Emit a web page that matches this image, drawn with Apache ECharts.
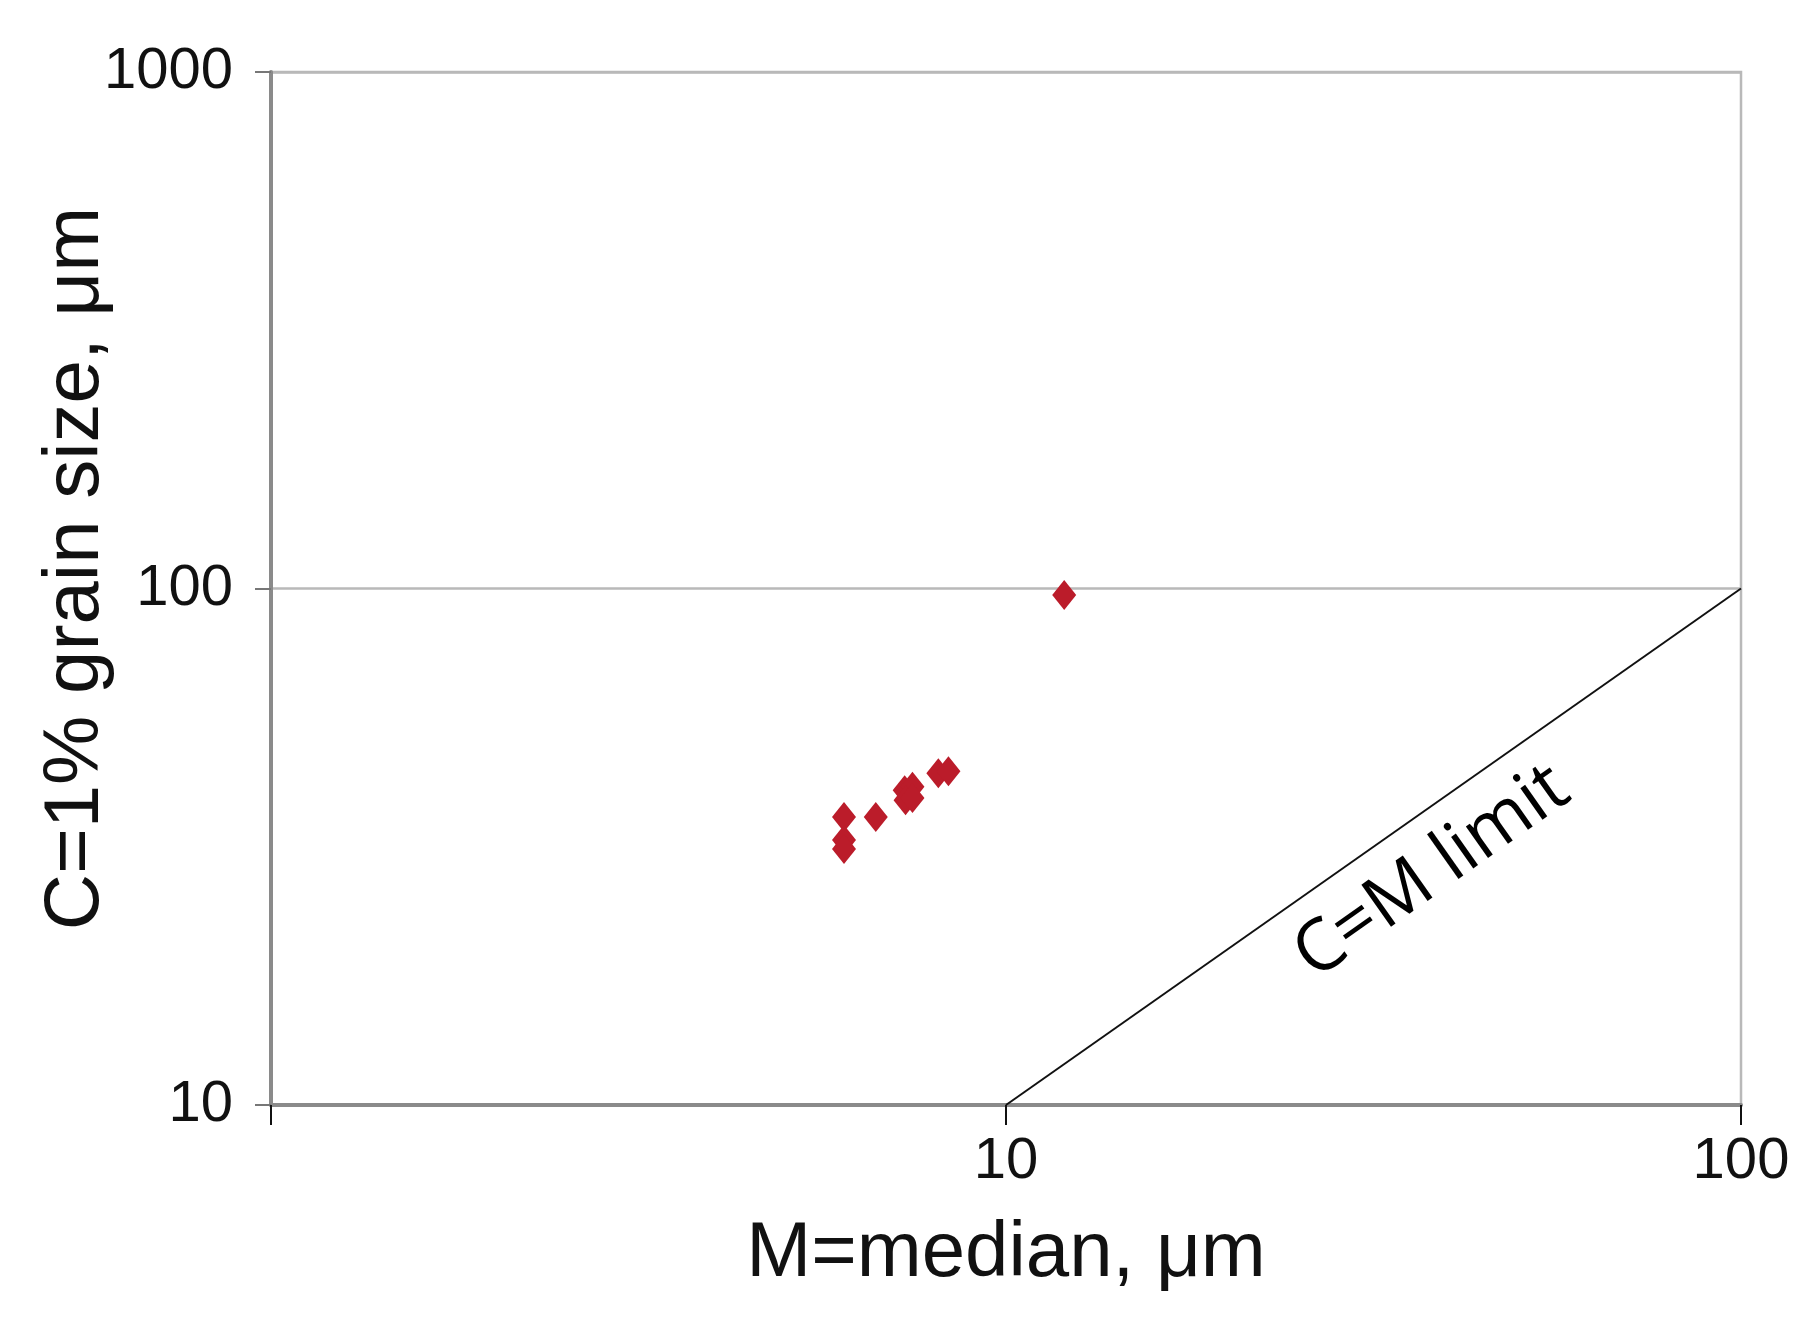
<!DOCTYPE html>
<html>
<head>
<meta charset="utf-8">
<title>C-M diagram</title>
<script src="https://cdn.jsdelivr.net/npm/echarts@6/dist/echarts.min.js"></script>
<style>
  html, body { margin: 0; padding: 0; background: #fff; }
  #chart { width: 1814px; height: 1323px; }
</style>
</head>
<body>
<div id="chart"></div>
<script>
// samples: M = median (µm), C = 1% grain size (µm)
const medianM = [12.0, 6.02, 6.02, 6.02, 6.65, 7.28, 7.46, 7.30, 7.46, 8.09, 8.35];
const coarseC = [97.1, 36.1, 32.6, 31.3, 36.1, 40.7, 41.3, 38.9, 39.3, 43.9, 44.3];

// C=M limit line end points
const limitLine = [[10, 10], [100, 100]];
const limitLabel = 'C=M limit';
const limitLabelAt = [38, 28.2];

const xTicks = [1, 10, 100];
const yTicks = [10, 100, 1000];

const chart = echarts.init(document.getElementById('chart'));

const points = medianM.map((m, i) => [m, coarseC[i]]);

chart.setOption({
  backgroundColor: '#fff',
  animation: false,
  grid: {
    left: 271,
    right: 73,
    top: 72,
    bottom: 218,
    outerBoundsMode: 'none',
    containLabel: false,
    show: true,
    borderColor: '#b9b9b9',
    borderWidth: 2.5
  },
  xAxis: {
    type: 'log',
    min: xTicks[0],
    max: xTicks[xTicks.length - 1],
    logBase: 10,
    name: 'M=median, μm',
    nameLocation: 'middle',
    nameGap: 110,
    nameMoveOverlap: false,
    nameTextStyle: {
      fontFamily: 'Liberation Sans',
      fontSize: 78,
      color: '#111'
    },
    axisLine: {
      show: true,
      lineStyle: { color: '#8a8a8a', width: 4 }
    },
    axisTick: {
      show: true,
      length: 20,
      lineStyle: { color: '#111', width: 2 }
    },
    axisLabel: {
      margin: 28,
      fontFamily: 'Liberation Sans',
      fontSize: 58,
      color: '#111',
      formatter: (v) => (v === xTicks[0] ? '' : String(v))
    },
    splitLine: { show: false }
  },
  yAxis: {
    type: 'log',
    min: yTicks[0],
    max: yTicks[yTicks.length - 1],
    logBase: 10,
    name: 'C=1% grain size, μm',
    nameLocation: 'middle',
    nameGap: 156,
    nameMoveOverlap: false,
    nameTextStyle: {
      fontFamily: 'Liberation Sans',
      fontSize: 78,
      color: '#111',
      padding: [0, 0, 0, 40]
    },
    axisLine: {
      show: true,
      lineStyle: { color: '#8a8a8a', width: 4 }
    },
    axisTick: {
      show: true,
      length: 16,
      lineStyle: { color: '#777', width: 2 }
    },
    axisLabel: {
      margin: 38,
      fontFamily: 'Liberation Sans',
      fontSize: 58,
      color: '#111',
      formatter: (v) => String(v)
    },
    splitLine: {
      show: true,
      lineStyle: { color: '#b9b9b9', width: 2.5 }
    }
  },
  series: [
    {
      name: 'C=M limit',
      type: 'line',
      data: limitLine,
      symbol: 'none',
      lineStyle: { color: '#111', width: 2 },
      z: 3
    },
    {
      name: 'label',
      type: 'scatter',
      data: [limitLabelAt],
      symbolSize: 0,
      silent: true,
      itemStyle: { opacity: 1 },
      label: {
        show: true,
        position: 'inside',
        formatter: limitLabel,
        rotate: 35.2,
        fontFamily: 'Open Sans',
        fontSize: 72,
        color: '#000'
      }
    },
    {
      name: 'samples',
      type: 'scatter',
      data: points,
      symbol: 'diamond',
      symbolSize: [24, 30],
      itemStyle: { color: '#bb1c2a', opacity: 1 },
      z: 4
    }
  ]
});
</script>
</body>
</html>
